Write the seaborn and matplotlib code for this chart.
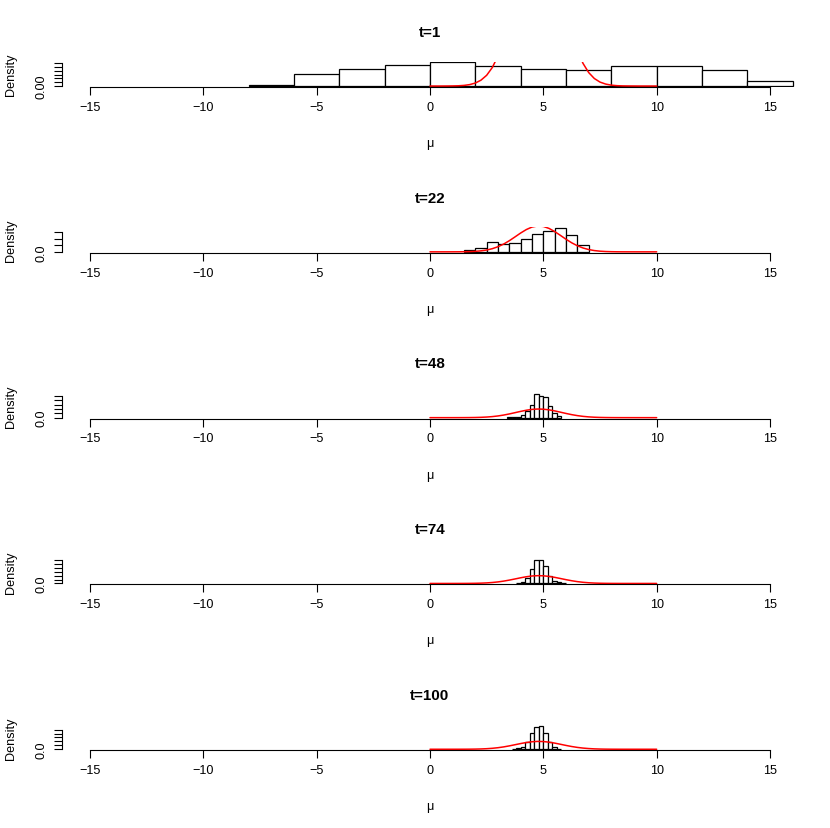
import numpy as np
import pandas as pd
import matplotlib
matplotlib.use("Agg")
import matplotlib.pyplot as plt
import seaborn as sns

# histogram bins (edges) and densities
titles = ["t=1", "t=22", "t=48", "t=74", "t=100"]

edges_t1 = [-8, -6, -4, -2, 0, 2, 4, 6, 8, 10, 12, 14, 16]
dens_t1 = [0.004, 0.032, 0.046, 0.056, 0.062, 0.052, 0.044, 0.042, 0.053, 0.052, 0.043, 0.014]

edges_t22 = [1.5, 2.0, 2.5, 3.0, 3.5, 4.0, 4.5, 5.0, 5.5, 6.0, 6.5, 7.0]
dens_t22 = [0.021, 0.057, 0.145, 0.119, 0.130, 0.197, 0.275, 0.326, 0.363, 0.259, 0.109]

edges_t48 = [3.4, 3.6, 3.8, 4.0, 4.2, 4.4, 4.6, 4.8, 5.0, 5.2, 5.4, 5.6, 5.8]
dens_t48 = [0.014, 0.023, 0.045, 0.114, 0.318, 0.590, 1.090, 1.022, 0.976, 0.522, 0.227, 0.059]

edges_t74 = [3.8, 4.0, 4.2, 4.4, 4.6, 4.8, 5.0, 5.2, 5.4, 5.6, 5.8, 6.0]
dens_t74 = [0.025, 0.061, 0.255, 0.728, 1.207, 1.207, 0.901, 0.392, 0.137, 0.061, 0.025]

edges_t100 = [3.6, 3.8, 4.0, 4.2, 4.4, 4.6, 4.8, 5.0, 5.2, 5.4, 5.6, 5.8]
dens_t100 = [0.025, 0.049, 0.114, 0.360, 0.805, 1.135, 1.199, 0.805, 0.360, 0.114, 0.035]

# red reference density on [0, 10]
curve_x = [0.0, 0.25, 0.5, 0.75, 1.0, 1.25, 1.5, 1.75, 2.0, 2.25, 2.5, 2.75, 3.0,
           3.25, 3.5, 3.75, 4.0, 4.25, 4.5, 4.75, 5.0, 5.25, 5.5, 5.75, 6.0,
           6.25, 6.5, 6.75, 7.0, 7.25, 7.5, 7.75, 8.0, 8.25, 8.5, 8.75, 9.0,
           9.25, 9.5, 9.75, 10.0]
curve_y = [0.0, 0.0, 0.0, 0.0001, 0.0003, 0.0007, 0.0017, 0.0038, 0.0079, 0.0155,
           0.0283, 0.0488, 0.0790, 0.1200, 0.1714, 0.2299, 0.2897, 0.3429, 0.3814,
           0.3984, 0.3910, 0.3605, 0.3123, 0.2541, 0.1942, 0.1394, 0.0940, 0.0596,
           0.0355, 0.0198, 0.0104, 0.0052, 0.0024, 0.0010, 0.0004, 0.0002, 0.0001,
           0.0, 0.0, 0.0, 0.0]

x_ticks = [-15, -10, -5, 0, 5, 10, 15]
y_steps = [0.01, 0.1, 0.2, 0.2, 0.2]
y_fmt = ["0.00", "0.0", "0.0", "0.0", "0.0"]

panels = [(edges_t1, dens_t1), (edges_t22, dens_t22), (edges_t48, dens_t48),
          (edges_t74, dens_t74), (edges_t100, dens_t100)]

sns.set_style("white")
plt.rcParams['font.family'] = ['Liberation Sans', 'DejaVu Sans']
plt.rcParams['text.color'] = 'black'
plt.rcParams['axes.labelcolor'] = 'black'
plt.rcParams['xtick.color'] = 'black'
plt.rcParams['ytick.color'] = 'black'

W, H = 830, 829
fig = plt.figure(figsize=(W / 100, H / 100), dpi=100)

for i, (edges, dens) in enumerate(panels):
    top = 62.5 + 165.8 * i
    bottom = 88 + 165.8 * i
    ax = fig.add_axes([62 / W, 1 - bottom / H, 736 / W, (bottom - top) / H])

    e = np.array(edges, dtype=float)
    centers = (e[:-1] + e[1:]) / 2
    df = pd.DataFrame({"mu": centers, "density": dens})
    sns.histplot(data=df, x="mu", weights="density", bins=list(edges), stat="count",
                 color="white", edgecolor="black", linewidth=0.9, alpha=1, ax=ax)
    sns.lineplot(x=curve_x, y=curve_y, color="red", linewidth=1.1, ax=ax)

    ymax = max(dens)
    ax.set_xlim(-16.235, 16.235)
    ax.set_ylim(-0.04 * ymax, 1.04 * ymax)

    for s in ["top", "right"]:
        ax.spines[s].set_visible(False)
    ax.spines["bottom"].set_bounds(-15, 15)
    yt = np.arange(0, ymax + 1e-9, y_steps[i])
    ax.spines["left"].set_bounds(0, yt[-1])
    for s in ["bottom", "left"]:
        ax.spines[s].set_linewidth(0.8)
        ax.spines[s].set_color("black")

    ax.set_xticks(x_ticks)
    ax.set_xticklabels([str(v).replace("-", "\u2212") for v in x_ticks])
    ax.set_yticks(yt)
    ax.set_yticklabels([y_fmt[i]] + [""] * (len(yt) - 1))
    ax.tick_params(axis="both", direction="out", length=5.5, width=0.8,
                   color="black", labelcolor="black", labelsize=9.1,
                   left=True, bottom=True)
    ax.tick_params(axis="x", pad=4.5)
    ax.tick_params(axis="y", pad=5, labelrotation=90)
    for lab in ax.get_yticklabels():
        lab.set_va("center")

    ax.set_xlabel("\u03bc", fontsize=9.1, color="black")
    ax.xaxis.set_label_coords(0.5, -1.96)
    ax.set_ylabel("Density", fontsize=9.1, color="black")
    ax.yaxis.set_label_coords(-0.061, 0.5)
    ax.set_title(titles[i], fontsize=10.9, fontweight="bold", pad=18.5, color="black")

fig.savefig("out.png", dpi=100)
